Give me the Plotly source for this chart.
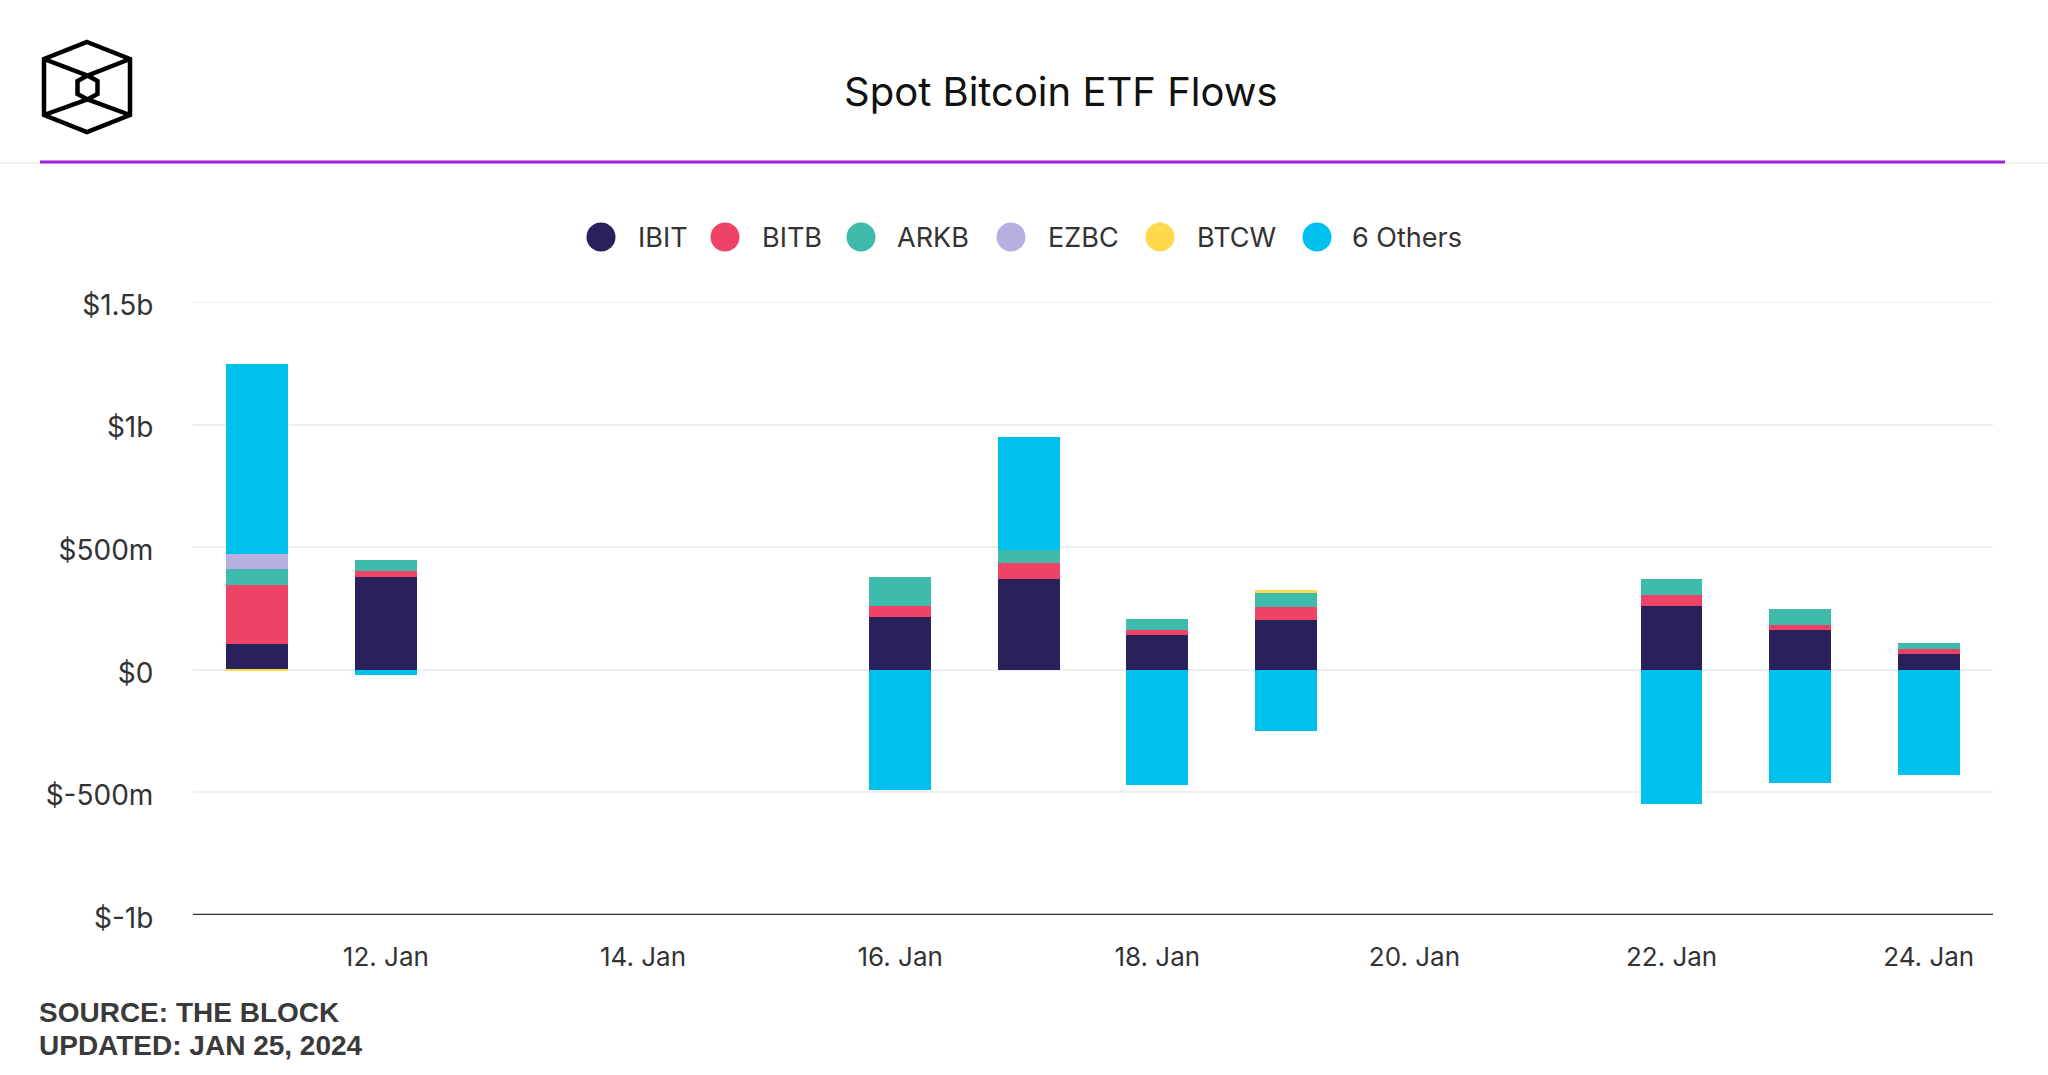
import plotly.graph_objects as go

# ---------------- data ($ millions) ----------------
dates = ["2024-01-11", "2024-01-12", "2024-01-16", "2024-01-17", "2024-01-18",
         "2024-01-19", "2024-01-22", "2024-01-23", "2024-01-24"]
ibit = [106, 380, 217, 369, 141, 204, 259, 162, 64]
bitb = [240, 23, 44, 66, 22, 54, 45, 22, 22]
arkb = [66, 45, 119, 54, 44, 54, 65, 66, 22]
ezbc = [59, 0, 0, 0, 0, 0, 0, 0, 0]
btcw = [-1, 0, 0, 0, 0, 13, 0, 0, 0]
others = [775, -23, -492, 460, -471, -251, -547, -460, -428]

series_names = ["IBIT", "BITB", "ARKB", "EZBC", "BTCW", "6 Others"]
series_values = [ibit, bitb, arkb, ezbc, btcw, others]
series_colors = ["#28215C", "#EE4266", "#3EBBAA", "#B8AFE1", "#FDDA4B", "#00C1EE"]

y_tickvals = [-1000, -500, 0, 500, 1000, 1500]
y_ticktext = ["$-1b", "$-500m", "$0", "$500m", "$1b", "$1.5b"]

title_text = "Spot Bitcoin ETF Flows"
source_text = "SOURCE: THE BLOCK"
updated_text = "UPDATED: JAN 25, 2024"

# ---------------- layout geometry (pixels) ----------------
W, H = 2048, 1075
PL, PR, PT, PB = 193, 1993, 302, 915  # plot area edges


def px(x):
    return (x - PL) / (PR - PL)


def py(y):
    return (PB - y) / (PB - PT)


FONT = "Inter, 'Open Sans', sans-serif"
FOOT_FONT = "Liberation Sans, Arial, sans-serif"

fig = go.Figure()
bar_width_ms = 0.48 * 86400000
for name, vals, col in zip(series_names, series_values, series_colors):
    fig.add_trace(go.Bar(
        x=dates, y=vals, name=name, marker=dict(color=col, line=dict(width=0)),
        width=bar_width_ms, showlegend=False,
    ))

shapes = []
annotations = []

# header lines
shapes.append(dict(type="line", xref="paper", yref="paper", x0=px(0), x1=px(W),
                   y0=py(163), y1=py(163), line=dict(color="#EFEFF2", width=1.5)))
shapes.append(dict(type="line", xref="paper", yref="paper", x0=px(40), x1=px(2005),
                   y0=py(162), y1=py(162), line=dict(color="#A11FD8", width=3)))

# logo (cube icon)
def path_from(points, close=True):
    s = "M " + " L ".join(f"{px(a):.5f},{py(b):.5f}" for a, b in points)
    return s + (" Z" if close else "")

outer = [(87, 42), (130, 59), (130, 115), (87, 132), (44, 115), (44, 59)]
inner = [(87.5, 75.5), (97.5, 81), (97.5, 94), (87.5, 99.5), (77.5, 94), (77.5, 81)]
logo_line = dict(color="#000000", width=4.5)
shapes.append(dict(type="path", xref="paper", yref="paper", path=path_from(outer), line=logo_line))
shapes.append(dict(type="path", xref="paper", yref="paper", path=path_from(inner), line=logo_line))
shapes.append(dict(type="path", xref="paper", yref="paper",
                   path=path_from([(44, 59), (87.5, 75.5), (130, 59)], close=False), line=logo_line))
shapes.append(dict(type="path", xref="paper", yref="paper",
                   path=path_from([(44, 115), (87.5, 99.5), (130, 115)], close=False), line=logo_line))

# title
annotations.append(dict(text=title_text, xref="paper", yref="paper", x=px(1061), y=py(91),
                        xanchor="center", yanchor="middle", showarrow=False,
                        font=dict(family=FONT, size=40, color="#111111")))

# custom legend
legend_circle_x = [601, 725, 861, 1011, 1160, 1317]
legend_text_x = [636, 760, 895, 1046, 1195, 1350]
legend_y = 237
r = 14.5
for name, col, cx, tx in zip(series_names, series_colors, legend_circle_x, legend_text_x):
    shapes.append(dict(type="circle", xref="paper", yref="paper",
                       x0=px(cx - r), x1=px(cx + r), y0=py(legend_y + r), y1=py(legend_y - r),
                       fillcolor=col, line=dict(width=0)))
    annotations.append(dict(text=name, xref="paper", yref="paper", x=px(tx), y=py(legend_y),
                            xanchor="left", yanchor="middle", showarrow=False,
                            font=dict(family=FONT, size=27, color="#333333")))

# footer
annotations.append(dict(text="<b>" + source_text + "</b>", xref="paper", yref="paper",
                        x=px(37), y=py(1012), xanchor="left", yanchor="middle", showarrow=False,
                        font=dict(family=FOOT_FONT, size=28, color="#3A3A3A")))
annotations.append(dict(text="<b>" + updated_text + "</b>", xref="paper", yref="paper",
                        x=px(37), y=py(1045), xanchor="left", yanchor="middle", showarrow=False,
                        font=dict(family=FOOT_FONT, size=28, color="#3A3A3A")))

# top gridline at $1.5b (edge of range)
shapes.append(dict(type="line", xref="paper", yref="y", x0=0, x1=1, y0=1500, y1=1500,
                   line=dict(color="#EEEEF2", width=2), layer="below"))
# bottom axis line at -1b
shapes.append(dict(type="line", xref="paper", yref="y", x0=0, x1=1, y0=-1000, y1=-1000,
                   line=dict(color="#333333", width=2.5)))

fig.update_layout(
    width=W, height=H, autosize=False,
    margin=dict(l=PL, r=W - PR, t=PT, b=H - PB, pad=0),
    paper_bgcolor="#FFFFFF", plot_bgcolor="#FFFFFF",
    barmode="relative", bargap=0,
    showlegend=False,
    shapes=shapes, annotations=annotations,
    font=dict(family=FONT, color="#333333"),
    xaxis=dict(
        type="date",
        range=["2024-01-10 12:00", "2024-01-24 12:00"],
        tick0="2024-01-12", dtick=2 * 86400000, tickformat="%d. %b",
        showgrid=False, zeroline=False,
        showline=False,
        ticks="outside", ticklen=19, tickcolor="rgba(0,0,0,0)",
        tickfont=dict(family=FONT, size=26, color="#333333"),
    ),
    yaxis=dict(
        range=[-1000, 1500], tickvals=y_tickvals, ticktext=y_ticktext,
        showgrid=True, gridcolor="#EEEEF2", gridwidth=2,
        zeroline=True, zerolinecolor="#EEEEF2", zerolinewidth=2,
        showline=False,
        ticks="outside", ticklen=33, tickcolor="rgba(0,0,0,0)",
        ticklabelshift=3,
        tickfont=dict(family=FONT, size=28, color="#333333"),
    ),
)

fig.write_html("out.html", config={"displayModeBar": False},
               post_script="document.body.style.margin='0';document.body.style.overflow='hidden';")
